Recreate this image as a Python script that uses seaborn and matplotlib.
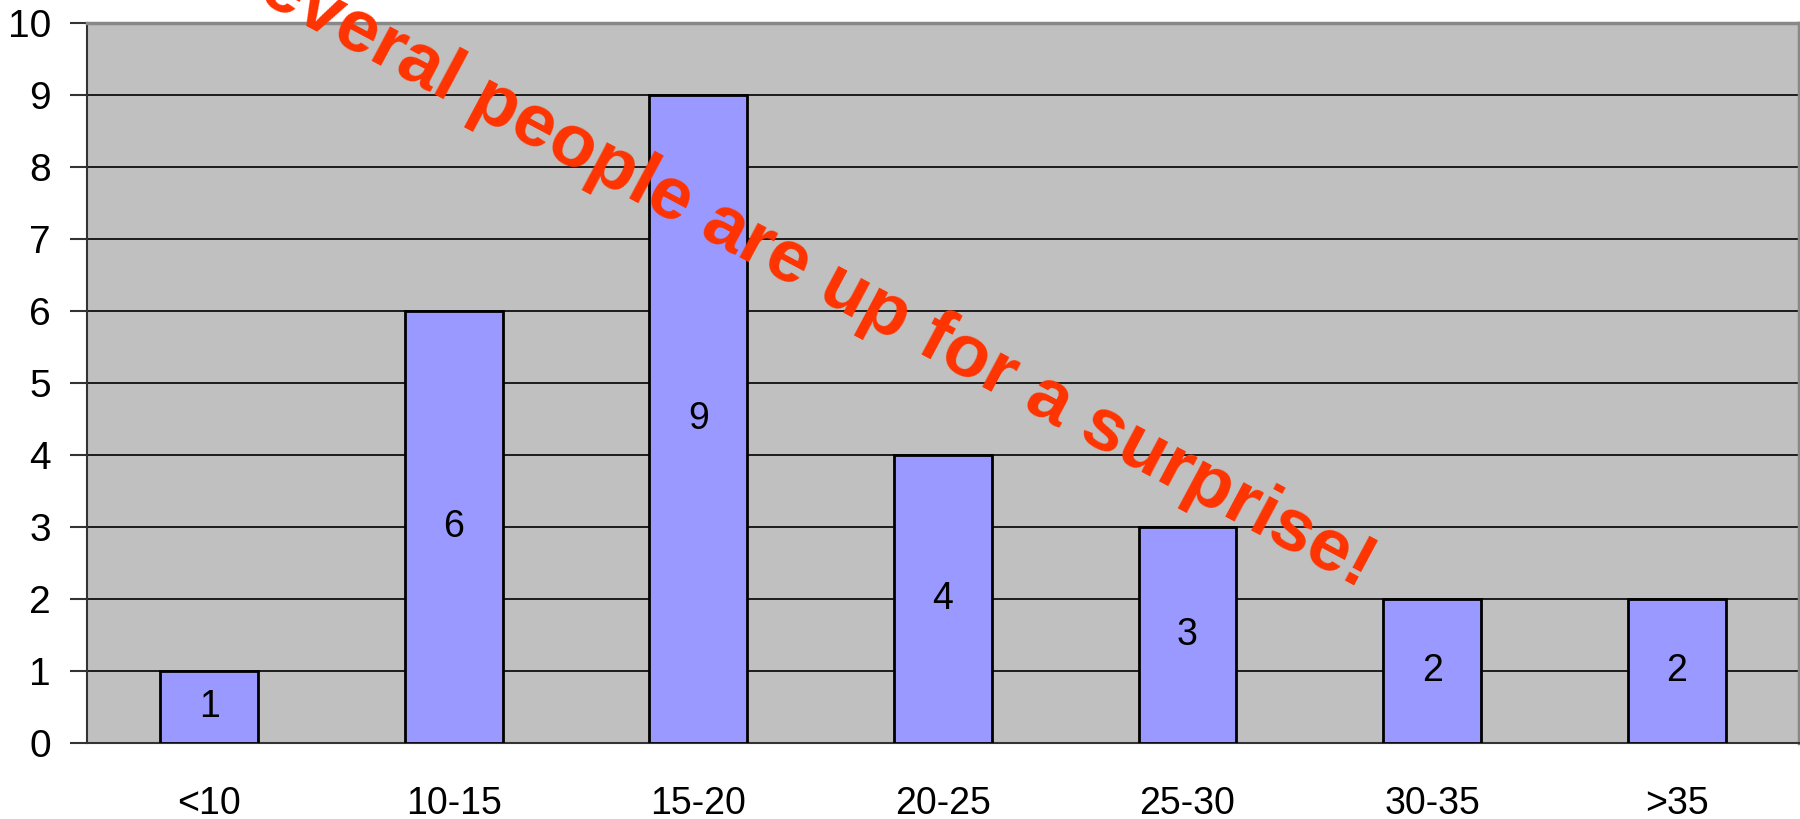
import matplotlib
matplotlib.use("Agg")
import matplotlib.pyplot as plt
import seaborn as sns
import pandas as pd

categories = ["<10", "10-15", "15-20", "20-25", "25-30", "30-35", ">35"]
counts = [1, 6, 9, 4, 3, 2, 2]
y_ticks = list(range(0, 11))
banner = "Several people are up for a surprise!"

sns.set_theme(style="white")
plt.rcParams["font.family"] = ["Liberation Sans", "DejaVu Sans"]
plt.rcParams["text.color"] = "black"
plt.rcParams["xtick.color"] = "black"
plt.rcParams["ytick.color"] = "black"

df = pd.DataFrame({"group": categories, "count": counts})

fig = plt.figure(figsize=(18, 8.19), dpi=100)
ax = fig.add_axes([0.0483, 0.0928, 0.9511, 0.8792])
ax.set_facecolor("#C0C0C0")

sns.barplot(data=df, x="group", y="count", order=categories, color="#9999FF",
            width=0.4, edgecolor="black", linewidth=2, saturation=1, ax=ax,
            zorder=3)

for c in ax.containers:
    ax.bar_label(c, labels=[str(v) for v in counts], label_type="center",
                 fontsize=27, color="black")

ax.set_ylim(0, 10)
ax.set_xlim(-0.5, len(categories) - 0.5)
ax.set_yticks(y_ticks)
ax.set_yticklabels([str(t) for t in y_ticks], fontsize=28)
ax.yaxis.grid(True, color="black", linewidth=1.2, zorder=1)
ax.set_axisbelow(True)

ax.set_xticks(range(len(categories)))
ax.set_xticklabels(categories, fontsize=27)
ax.set_xticks([i - 0.5 for i in range(len(categories) + 1)], minor=True)
ax.tick_params(axis="x", which="major", length=0, pad=31)
ax.tick_params(axis="x", which="minor", length=12, width=1.5, color="#555555",
               direction="out")
ax.tick_params(axis="y", which="major", length=12, width=1.5, color="#333333",
               direction="out", left=True, pad=14)
ax.set_xlabel("")
ax.set_ylabel("")

for side in ["top", "right"]:
    ax.spines[side].set_color("#888888")
    ax.spines[side].set_linewidth(2.5)
for side in ["left", "bottom"]:
    ax.spines[side].set_color("#333333")
    ax.spines[side].set_linewidth(1.5)

fig.text(786 / 1800, 1 - 282 / 819, banner, fontsize=54, fontweight="bold",
         color="#FF3300", rotation=-28.1, rotation_mode="anchor",
         ha="center", va="baseline", zorder=10)

fig.savefig("out.png", dpi=100)
